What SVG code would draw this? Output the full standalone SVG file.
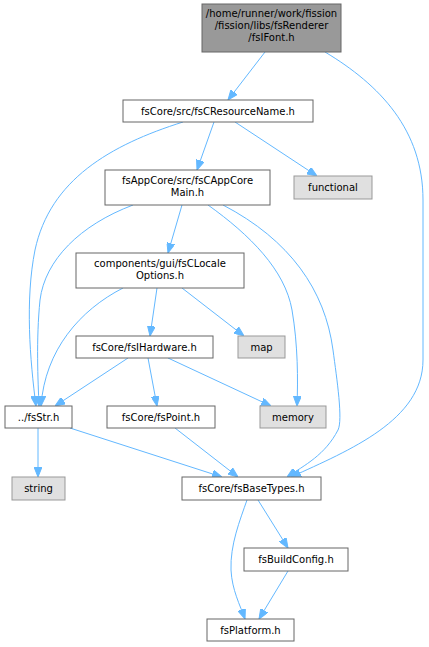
<svg xmlns="http://www.w3.org/2000/svg" width="429" height="647" viewBox="0 0 429 647">
<style>
.n rect{fill:#ffffff;stroke:#666666;stroke-width:1}
.g rect{fill:#e0e0e0;stroke:#999999;stroke-width:1}
.top rect{fill:#999999;stroke:#666666;stroke-width:1}
text{font-family:"DejaVu Sans","Liberation Sans",sans-serif;font-size:10px;fill:#000000;text-anchor:middle}
.e path{fill:none;stroke:#63b8ff;stroke-width:1;marker-end:url(#ah)}
</style>
<defs>
<marker id="ah" markerUnits="userSpaceOnUse" markerWidth="10" markerHeight="8" refX="10" refY="4" orient="auto">
<path d="M0,0 L10,4 L0,8 z" fill="#63b8ff" stroke="#63b8ff" stroke-width="1"/>
</marker>
</defs>
<g id="edges" class="e">
<path d="M265,52 L228,100"/>
<path d="M325,52 C380,85 423,130 423,200 L423,360 C423,420 350,450 291,477"/>
<path d="M214,122 L197,170"/>
<path d="M235,122 L317,176"/>
<path d="M183,122 C110,145 50,180 35,250 C25,300 30,360 36,406"/>
<path d="M133,205 C80,225 45,260 40,300 C36,340 38,380 39,406"/>
<path d="M182,205 L168,253"/>
<path d="M208,205 C250,235 285,270 292,310 C298,345 298,380 297,406"/>
<path d="M223,205 C290,240 325,290 333,350 C337,380 343,420 338,430 C325,455 305,465 287,477"/>
<path d="M123,288 C80,310 45,350 41,406"/>
<path d="M157,288 L150,336"/>
<path d="M182,288 L244,336"/>
<path d="M128,358 L55,406"/>
<path d="M148,358 L157,406"/>
<path d="M168,358 L271,406"/>
<path d="M38,428 L38,477"/>
<path d="M70,428 L222,477"/>
<path d="M175,428 L238,477"/>
<path d="M247,500 C240,520 230,545 231,570 C232,590 240,605 245,619"/>
<path d="M258,500 L288,548"/>
<path d="M288,571 L259,619"/>
</g>
<g id="fsIFont" class="top"><rect x="202" y="4" width="139" height="48"/><text x="271.5" y="17">/home/runner/work/fission</text><text x="271.5" y="29">/fission/libs/fsRenderer</text><text x="271.5" y="41">/fsIFont.h</text></g>
<g id="fsCResourceName" class="n"><rect x="123" y="100" width="190" height="22"/><text x="218" y="114.5">fsCore/src/fsCResourceName.h</text></g>
<g id="fsCAppCoreMain" class="n"><rect x="105" y="170" width="165" height="35"/><text x="187.5" y="184">fsAppCore/src/fsCAppCore</text><text x="187.5" y="196">Main.h</text></g>
<g id="functional" class="g"><rect x="294" y="176" width="78" height="23"/><text x="333" y="191">functional</text></g>
<g id="fsCLocaleOptions" class="n"><rect x="76" y="253" width="168" height="35"/><text x="160" y="267">components/gui/fsCLocale</text><text x="160" y="279">Options.h</text></g>
<g id="fsIHardware" class="n"><rect x="76" y="336" width="137" height="22"/><text x="144.5" y="350.5">fsCore/fsIHardware.h</text></g>
<g id="map" class="g"><rect x="238" y="336" width="47" height="22"/><text x="261.5" y="350.5">map</text></g>
<g id="fsStr" class="n"><rect x="5" y="406" width="67" height="22"/><text x="38.5" y="420.5">../fsStr.h</text></g>
<g id="fsPoint" class="n"><rect x="107" y="406" width="108" height="22"/><text x="161" y="420.5">fsCore/fsPoint.h</text></g>
<g id="memory" class="g"><rect x="260" y="406" width="66" height="22"/><text x="293" y="420.5">memory</text></g>
<g id="string" class="g"><rect x="12" y="477" width="53" height="23"/><text x="38.5" y="492">string</text></g>
<g id="fsBaseTypes" class="n"><rect x="182" y="477" width="139" height="23"/><text x="251.5" y="492">fsCore/fsBaseTypes.h</text></g>
<g id="fsBuildConfig" class="n"><rect x="244" y="548" width="104" height="23"/><text x="296" y="563">fsBuildConfig.h</text></g>
<g id="fsPlatform" class="n"><rect x="207" y="619" width="87" height="22"/><text x="250.5" y="633.5">fsPlatform.h</text></g>
</svg>
